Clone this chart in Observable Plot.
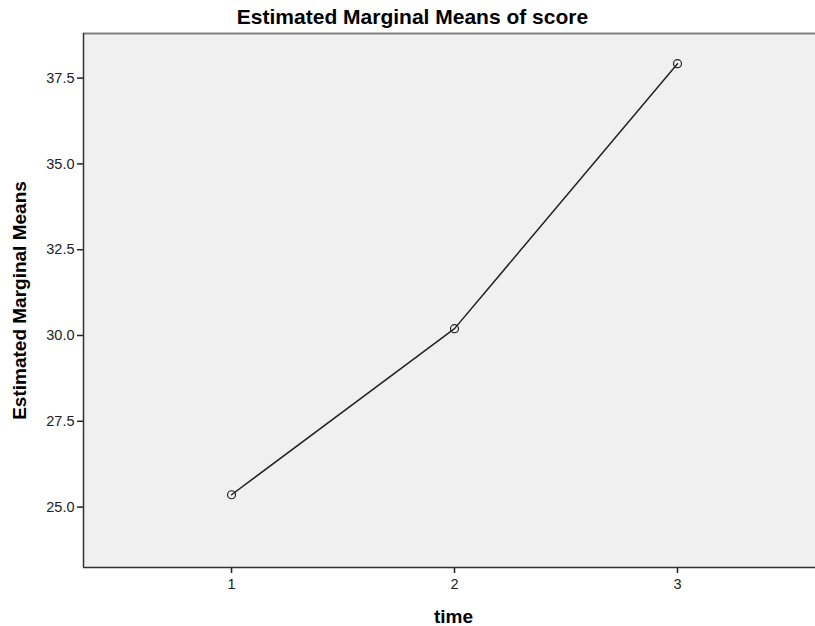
<!DOCTYPE html>
<html>
<head>
<meta charset="utf-8">
<script src="https://cdn.jsdelivr.net/npm/d3@7"></script>
<script src="https://cdn.jsdelivr.net/npm/@observablehq/plot@0.6"></script>
<style>
  body { margin: 0; background: #fff; font-family: "Liberation Sans", Arial, sans-serif; overflow: hidden; }
  #title { height: 31px; width: 815px; text-align: center; font-weight: bold; font-size: 21px; line-height: 34px; color: #000; padding-left: 10px; box-sizing: border-box; }
  #chart svg { display: block; max-width: none; }
  #chart svg text { font-size: 14.5px; fill: #222; }
  #chart svg text.lbl { font-size: 19px; font-weight: bold; fill: #000; }
</style>
</head>
<body>
<div id="title">Estimated Marginal Means of score</div>
<div id="chart"></div>
<script>
const times = [1, 2, 3];
const means = [25.36, 30.20, 37.92];
const xTicks = [1, 2, 3];
const yTicks = [25.0, 27.5, 30.0, 32.5, 35.0, 37.5];
const xDomain = [0.336, 3.619];
const yDomain = [23.24, 38.80];
const xLabel = "time";
const yLabel = "Estimated Marginal Means";

const data = times.map((t, i) => ({time: t, mean: means[i]}));

const chart = Plot.plot({
  width: 815,
  height: 595,
  marginTop: 2,
  marginLeft: 83,
  marginRight: 0,
  marginBottom: 59,
  style: {fontFamily: "Liberation Sans, Arial, sans-serif", color: "#222", background: "#fff", maxWidth: "none"},
  x: {domain: xDomain, ticks: xTicks},
  y: {domain: yDomain, ticks: yTicks},
  marks: [
    Plot.frame({fill: "#f0f0f0", stroke: null}),
    Plot.ruleY([yDomain[1]], {stroke: "#808080", strokeWidth: 2}),
    Plot.ruleY([yDomain[0]], {stroke: "#333", strokeWidth: 1.5}),
    Plot.ruleX([xDomain[0]], {stroke: "#333", strokeWidth: 1.5}),
    Plot.axisY({ticks: yTicks, tickSize: 6, tickPadding: 3, tickFormat: d3.format(".1f"), strokeWidth: 1.5,
      label: yLabel, labelAnchor: "center", labelArrow: "none", labelOffset: 71}),
    Plot.axisX({ticks: xTicks, tickSize: 6, tickPadding: 5, tickFormat: d3.format("d"), strokeWidth: 1.5,
      label: xLabel, labelAnchor: "center", labelArrow: "none", labelOffset: 55}),
    Plot.line(data, {x: "time", y: "mean", stroke: "#222", strokeWidth: 1.5}),
    Plot.dot(data, {x: "time", y: "mean", r: 4, stroke: "#222", fill: "none", strokeWidth: 1.2})
  ]
});
document.getElementById("chart").appendChild(chart);
d3.select(chart).selectAll("text").filter(function() { return this.textContent === xLabel || this.textContent === yLabel; })
  .classed("lbl", true);
d3.select(chart).selectAll("text").filter(function() { return this.textContent === xLabel; })
  .attr("dx", 4);
</script>
</body>
</html>
